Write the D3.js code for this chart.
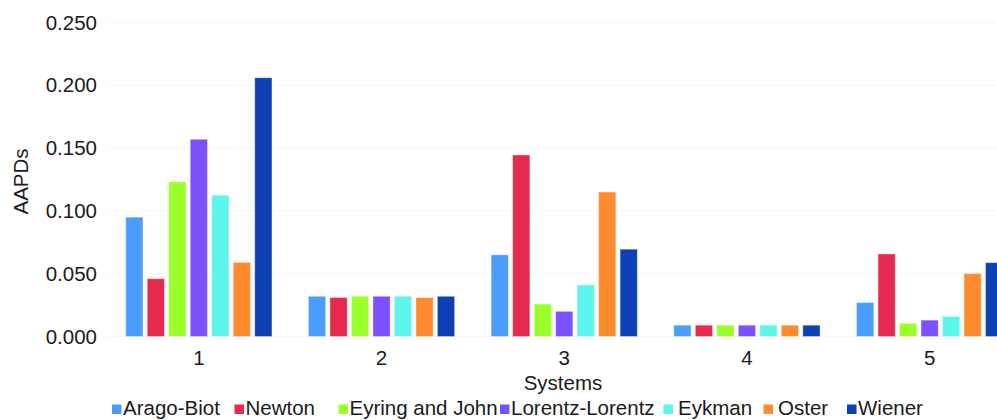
<!DOCTYPE html>
<html><head><meta charset="utf-8">
<script src="https://cdn.jsdelivr.net/npm/d3@7"></script>
<style>
html,body{margin:0;padding:0;background:#fff;}
svg{display:block;font-family:"Liberation Sans",Arial,sans-serif;}
</style></head>
<body>
<svg id="chart" width="997" height="420"></svg>
<script>
const categories = ["1", "2", "3", "4", "5"];
const seriesNames = ["Arago-Biot", "Newton", "Eyring and John", "Lorentz-Lorentz", "Eykman", "Oster", "Wiener"];
const aragoBiot      = [0.095, 0.032, 0.065, 0.009, 0.027];
const newton         = [0.046, 0.031, 0.1445, 0.009, 0.0657];
const eyringJohn     = [0.123, 0.032, 0.0258, 0.009, 0.0105];
const lorentzLorentz = [0.157, 0.032, 0.020, 0.009, 0.013];
const eykman         = [0.1125, 0.032, 0.041, 0.009, 0.016];
const oster          = [0.059, 0.031, 0.115, 0.009, 0.050];
const wiener         = [0.206, 0.032, 0.0695, 0.009, 0.0588];
const yTicks = [0, 0.05, 0.10, 0.15, 0.20, 0.25];
const colors = ["#4A9DFF", "#E5294F", "#9BFF2B", "#7A50FF", "#5CF6EC", "#FF8B2F", "#0C40B4"];

const seriesValues = [aragoBiot, newton, eyringJohn, lorentzLorentz, eykman, oster, wiener];

const svg = d3.select("#chart");
const plotTop = 22.5, plotBottom = 336.5;

const y = d3.scaleLinear().domain([0, 0.25]).range([plotBottom, plotTop]);
const x0 = d3.scaleBand().domain(categories).range([107.5, 1021]).paddingInner(0.2).paddingOuter(0.1);
const x1 = d3.scaleBand().domain(seriesNames).range([0, x0.bandwidth()]).paddingInner(0.2).paddingOuter(0);
const color = d3.scaleOrdinal().domain(seriesNames).range(colors);

// faint gridlines
svg.append("g").selectAll("line").data(yTicks).join("line")
  .attr("x1", 107).attr("x2", 997)
  .attr("y1", d => y(d)).attr("y2", d => y(d))
  .attr("stroke", "#f7f7f7").attr("stroke-width", 1);

// y axis
const yAxis = d3.axisLeft(y).tickValues(yTicks).tickFormat(d3.format(".3f")).tickSize(0).tickPadding(0);
const gy = svg.append("g").attr("transform", "translate(97,0)").call(yAxis);
gy.select(".domain").remove();
gy.selectAll("text").attr("font-size", 20.5).attr("fill", "#1a1a1a").attr("font-family", "Liberation Sans, Arial, sans-serif");

// bars
const groups = svg.append("g").selectAll("g").data(categories).join("g")
  .attr("transform", d => `translate(${x0(d)},0)`);
groups.selectAll("rect")
  .data((c, ci) => seriesNames.map((s, si) => ({s, v: seriesValues[si][ci]})))
  .join("rect")
  .attr("x", d => x1(d.s))
  .attr("width", x1.bandwidth())
  .attr("y", d => y(d.v))
  .attr("height", d => y(0) - y(d.v))
  .attr("fill", d => color(d.s))
  .attr("stroke", "rgba(255,255,255,0.35)").attr("stroke-width", 1);

// x axis
const xAxis = d3.axisBottom(x0).tickSize(0).tickPadding(0);
const gx = svg.append("g").attr("transform", `translate(0,${plotBottom + 14})`).call(xAxis);
gx.select(".domain").remove();
gx.selectAll("text").attr("font-size", 20.5).attr("fill", "#1a1a1a").attr("font-family", "Liberation Sans, Arial, sans-serif");

// axis titles
svg.append("text").attr("x", 563).attr("y", 389.5).attr("text-anchor", "middle")
  .attr("font-size", 20.5).attr("fill", "#1a1a1a").text("Systems");
svg.append("text").attr("transform", `translate(27.5,${(plotTop + plotBottom) / 2 + 2}) rotate(-90)`)
  .attr("text-anchor", "middle").attr("font-size", 20.5).attr("fill", "#1a1a1a").text("AAPDs");

// legend
const legendX = [112, 234.5, 338.5, 500, 663.5, 763.5, 847];
const legend = svg.append("g").selectAll("g").data(seriesNames).join("g")
  .attr("transform", (d, i) => `translate(${legendX[i]},409)`);
legend.append("rect").attr("x", 0).attr("y", -4.5).attr("width", 9.5).attr("height", 9.5)
  .attr("fill", d => color(d));
legend.append("text").attr("x", (d, i) => i === 4 || i === 5 ? 14.5 : 11).attr("y", 6)
  .attr("font-size", 20.5).attr("fill", "#1a1a1a").text(d => d);
</script>
</body></html>
